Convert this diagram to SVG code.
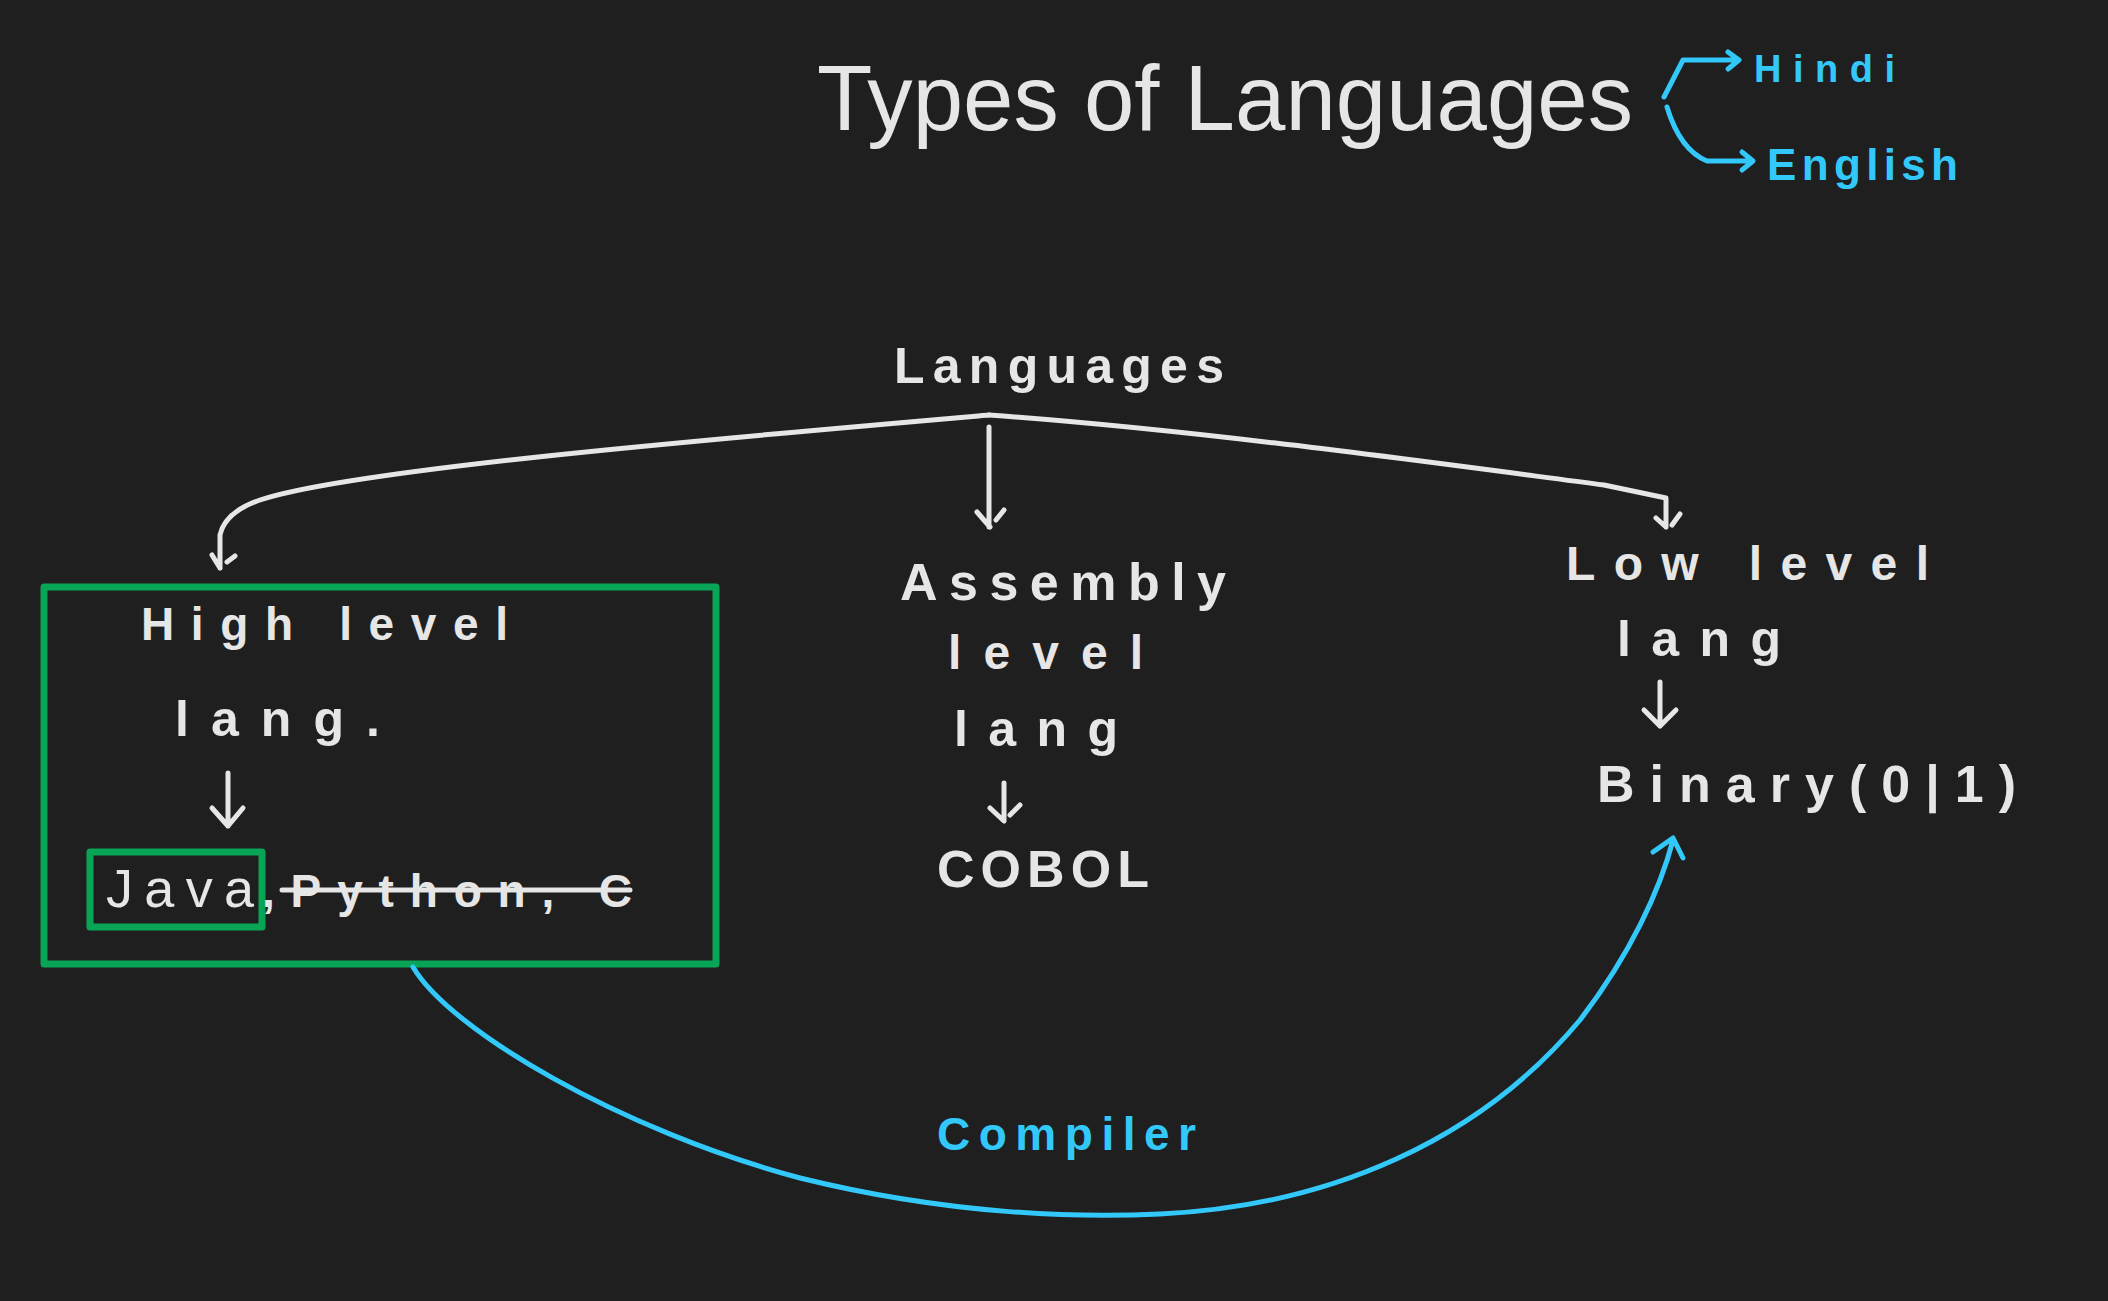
<svg xmlns="http://www.w3.org/2000/svg" width="2108" height="1301" viewBox="0 0 2108 1301">
<style>
.w{fill:#e6e6e6;font-family:"Liberation Sans","DejaVu Sans",sans-serif}
.b{fill:#33c8fa;font-family:"Liberation Sans","DejaVu Sans",sans-serif}
.ln{fill:none;stroke:#e6e6e6;stroke-width:5;stroke-linecap:round;stroke-linejoin:round}
.bl{fill:none;stroke:#33c8fa;stroke-width:5;stroke-linecap:round;stroke-linejoin:round}
.gr{fill:none;stroke:#08a557;stroke-width:7;stroke-linejoin:round}
</style>
<rect width="2108" height="1301" fill="#1f1f1f"/>
<g id="title">
<text class="w" x="817" y="130" font-size="92" textLength="816" lengthAdjust="spacingAndGlyphs">Types of Languages</text>
</g>
<g id="hindi"><text class="b" x="1754" y="82" font-size="38" font-weight="bold" textLength="141" lengthAdjust="spacing">Hindi</text></g>
<g id="english"><text class="b" x="1767" y="180" font-size="44" font-weight="bold" textLength="191" lengthAdjust="spacing">English</text></g>
<g id="languages"><text class="w" x="894" y="383" font-size="50" font-weight="bold" textLength="330" lengthAdjust="spacing">Languages</text></g>
<g id="high-level">
<rect class="gr" x="44" y="587" width="672" height="377"/>
<text class="w" x="141" y="640" font-size="46" font-weight="bold" textLength="367" lengthAdjust="spacing">High level</text>
<text class="w" x="175" y="736" font-size="50" font-weight="bold" textLength="205" lengthAdjust="spacing">lang.</text>
<path class="ln" d="M228 773 V826 M212 808 L228 826 L243 808"/>
<rect class="gr" x="90" y="852" width="172" height="75"/>
<text class="w" x="106" y="907" font-size="54" textLength="148" lengthAdjust="spacing">Java</text>
<text class="w" x="262" y="907" font-size="46" font-weight="bold" textLength="370" lengthAdjust="spacing">,Python, C</text>
<path class="ln" d="M282 890 H630" stroke-width="6"/>
</g>
<g id="assembly">
<text class="w" x="900" y="600" font-size="52" font-weight="bold" textLength="326" lengthAdjust="spacing">Assembly</text>
<text class="w" x="948" y="669" font-size="48" font-weight="bold" textLength="195" lengthAdjust="spacing">level</text>
<text class="w" x="954" y="746" font-size="50" font-weight="bold" textLength="164" lengthAdjust="spacing">lang</text>
<path class="ln" d="M1004 783 V820 M990 808 L1004 821 M1010 815 L1020 805"/>
<text class="w" x="937" y="887" font-size="52" font-weight="bold" textLength="212" lengthAdjust="spacing">COBOL</text>
</g>
<g id="low-level">
<text class="w" x="1566" y="580" font-size="48" font-weight="bold" textLength="363" lengthAdjust="spacing">Low level</text>
<text class="w" x="1617" y="656" font-size="50" font-weight="bold" textLength="164" lengthAdjust="spacing">lang</text>
<path class="ln" d="M1660 682 V726 M1644 710 L1660 726 L1676 710"/>
<text class="w" x="1597" y="802" font-size="52" font-weight="bold" textLength="419" lengthAdjust="spacing">Binary(0|1)</text>
</g>
<g id="compiler-label"><text class="b" x="937" y="1150" font-size="46" font-weight="bold" textLength="259" lengthAdjust="spacing">Compiler</text></g>
<g id="connectors">
<path class="bl" d="M1664 97 L1683 60 H1738 M1728 52 L1739 60 L1728 69"/>
<path class="bl" d="M1667 107 Q1680 150 1707 161 H1752 M1742 152 L1753 161 L1742 170"/>
<path class="ln" d="M989 415 C700 440 350 470 260 500 Q225 512 220 535 V568 M212 555 L220 568 M227 562 L235 556"/>
<path class="ln" d="M989 427 V527 M977 512 L990 527 M996 520 L1004 510"/>
<path class="ln" d="M989 415 C1200 430 1450 465 1604 485 L1666 498 V527 M1656 518 L1666 527 M1672 525 L1680 514"/>
<path class="bl" d="M413 967 C450 1030 620 1130 800 1178 C950 1215 1080 1218 1160 1214 C1330 1206 1480 1140 1580 1020 C1630 955 1660 890 1673 840 M1653 852 L1673 838 L1683 858"/>
</g>
</svg>
